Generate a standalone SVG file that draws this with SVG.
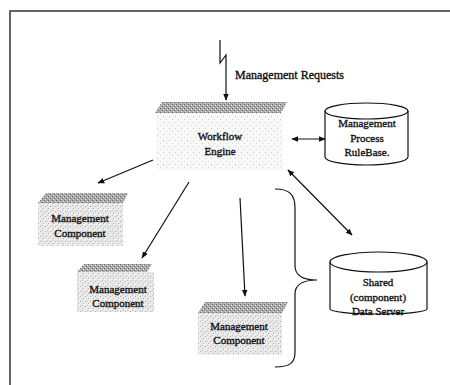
<svg xmlns="http://www.w3.org/2000/svg" width="450" height="385" viewBox="0 0 450 385">
<defs>
<style>
.t{font-family:"Liberation Serif","Times New Roman",serif;font-size:11px;fill:#111;stroke:#111;stroke-width:0.35;text-anchor:middle}
.ln{fill:none;stroke:#111;stroke-width:1.2}
.cyl{fill:#fff;stroke:#111;stroke-width:1.2}
</style>
<pattern id="dk" width="4" height="4" patternUnits="userSpaceOnUse">
<rect width="4" height="4" fill="#a9a9a9"/>
<rect x="0" y="0" width="1" height="1" fill="#6e6e6e"/>
<rect x="2" y="2" width="1" height="1" fill="#6e6e6e"/>
<rect x="1" y="3" width="1" height="1" fill="#e2e2e2"/>
<rect x="3" y="1" width="1" height="1" fill="#e2e2e2"/>
</pattern>
<pattern id="lt" width="5" height="5" patternUnits="userSpaceOnUse">
<rect width="5" height="5" fill="#e9e9e9"/>
<rect x="0" y="1" width="1" height="1" fill="#b0b0b0"/>
<rect x="3" y="3" width="1" height="1" fill="#b0b0b0"/>
<rect x="2" y="0" width="1" height="1" fill="#c4c4c4"/>
<rect x="4" y="4" width="1" height="1" fill="#ffffff"/>
</pattern>
<pattern id="vl" width="6" height="6" patternUnits="userSpaceOnUse">
<rect width="6" height="6" fill="#f8f8f8"/>
<rect x="1" y="2" width="1" height="1" fill="#c8c8c8"/>
<rect x="4" y="5" width="1" height="1" fill="#d4d4d4"/>
</pattern>
<marker id="ah" viewBox="0 0 10 10" refX="9" refY="5" markerWidth="7" markerHeight="7" markerUnits="userSpaceOnUse" orient="auto-start-reverse">
<path d="M0,1 L10,5 L0,9 Z" fill="#111"/>
</marker>
</defs>

<g id="frame">
<path d="M10,385 V11 H450" fill="none" stroke="#333" stroke-width="1.5"/>
</g>

<g id="workflow-engine">
<rect x="157" y="113" width="126" height="57" fill="url(#vl)"/>
<polygon points="162,102 287,102 281,113 155,113" fill="url(#dk)"/>
<text class="t" x="220" y="140">Workflow</text>
<text class="t" x="220" y="155">Engine</text>
</g>

<g id="component-1">
<rect x="38" y="203" width="85" height="43" fill="url(#lt)"/>
<polygon points="46,193 128,193 123,203 38,203" fill="url(#dk)"/>
<text class="t" x="80" y="222">Management</text>
<text class="t" x="80" y="237">Component</text>
</g>

<g id="component-2">
<rect x="77" y="272" width="77" height="40" fill="url(#lt)"/>
<polygon points="84,264 152,264 147,272 77,272" fill="url(#dk)"/>
<text class="t" x="118" y="293">Management</text>
<text class="t" x="118" y="307">Component</text>
</g>

<g id="component-3">
<rect x="198" y="313" width="84" height="42" fill="url(#lt)"/>
<polygon points="205,302 288,302 282,313 198,313" fill="url(#dk)"/>
<text class="t" x="239" y="330">Management</text>
<text class="t" x="239" y="344">Component</text>
</g>

<g id="rulebase">
<path class="cyl" d="M325,111 V157 A41.5,8 0 0 0 408,157 V111"/>
<ellipse class="cyl" cx="366.5" cy="111" rx="41.5" ry="8"/>
<text class="t" x="367" y="127">Management</text>
<text class="t" x="367" y="142">Process</text>
<text class="t" x="367" y="156">RuleBase.</text>
</g>

<g id="data-server">
<path class="cyl" d="M330,262 V309 A48.5,5 0 0 0 427,309 V262"/>
<ellipse class="cyl" cx="378.5" cy="262" rx="48.5" ry="10"/>
<text class="t" x="378" y="286">Shared</text>
<text class="t" x="378" y="301">(component)</text>
<text class="t" x="378" y="315">Data Server</text>
</g>

<g id="connectors">
<path class="ln" d="M220,40 V63 L226,55 V100" marker-end="url(#ah)"/>
<text class="t" x="235" y="79" style="text-anchor:start;font-size:12px">Management Requests</text>
<line class="ln" x1="153" y1="160" x2="98" y2="183" marker-end="url(#ah)"/>
<line class="ln" x1="189" y1="182" x2="142" y2="258" marker-end="url(#ah)"/>
<line class="ln" x1="240" y1="198" x2="245" y2="296" marker-end="url(#ah)"/>
<line class="ln" x1="292" y1="139" x2="325" y2="139" marker-start="url(#ah)" marker-end="url(#ah)"/>
<line class="ln" x1="288" y1="170" x2="352" y2="235" marker-start="url(#ah)" marker-end="url(#ah)"/>
<path class="ln" d="M275,189 C290,189 295,195 295,208 V266 C295,275 303,280 317,280 C303,280 295,285 295,294 V352 C295,363 290,367 275,367"/>
</g>
</svg>
